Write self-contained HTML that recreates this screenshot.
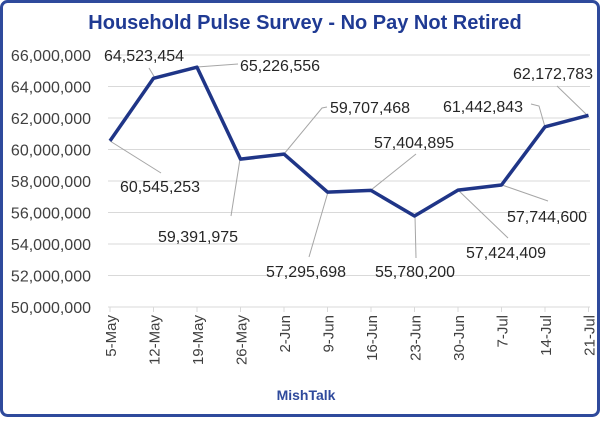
<!DOCTYPE html>
<html><head><style>
html,body{margin:0;padding:0;background:#fff;}
svg text{font-family:"Liberation Sans",sans-serif;}
</style></head><body>
<svg width="604" height="419" viewBox="0 0 604 419" xmlns="http://www.w3.org/2000/svg">
<rect x="1.5" y="1.5" width="597" height="414" rx="6" fill="#fff" stroke="#2F4A9C" stroke-width="3"/>
<text x="305" y="29" text-anchor="middle" font-size="20" font-weight="bold" fill="#1F3A93">Household Pulse Survey - No Pay Not Retired</text>
<g stroke="#d9d9d9" stroke-width="1">
<line x1="108" x2="590" y1="55" y2="55"/><line x1="108" x2="590" y1="86.5" y2="86.5"/>
<line x1="108" x2="590" y1="118" y2="118"/><line x1="108" x2="590" y1="149.5" y2="149.5"/>
<line x1="108" x2="590" y1="181" y2="181"/><line x1="108" x2="590" y1="212.5" y2="212.5"/>
<line x1="108" x2="590" y1="244" y2="244"/><line x1="108" x2="590" y1="275.5" y2="275.5"/>
<line x1="108" x2="590" y1="307" y2="307"/>
<line x1="110" x2="110" y1="307" y2="312"/><line x1="153.5" x2="153.5" y1="307" y2="312"/><line x1="197" x2="197" y1="307" y2="312"/><line x1="240.5" x2="240.5" y1="307" y2="312"/><line x1="284" x2="284" y1="307" y2="312"/><line x1="327.5" x2="327.5" y1="307" y2="312"/><line x1="371" x2="371" y1="307" y2="312"/><line x1="414.5" x2="414.5" y1="307" y2="312"/><line x1="458" x2="458" y1="307" y2="312"/><line x1="501.5" x2="501.5" y1="307" y2="312"/><line x1="545" x2="545" y1="307" y2="312"/><line x1="588.5" x2="588.5" y1="307" y2="312"/>
</g>
<g font-size="16" fill="#404040" text-anchor="end">
<text x="91" y="61">66,000,000</text><text x="91" y="92.5">64,000,000</text><text x="91" y="124">62,000,000</text><text x="91" y="155.5">60,000,000</text><text x="91" y="187">58,000,000</text><text x="91" y="218.5">56,000,000</text><text x="91" y="250">54,000,000</text><text x="91" y="281.5">52,000,000</text><text x="91" y="313">50,000,000</text>
</g>
<g font-size="15" fill="#404040" text-anchor="end">
<text transform="translate(116,315) rotate(-90)">5-May</text>
<text transform="translate(159.5,315) rotate(-90)">12-May</text>
<text transform="translate(203,315) rotate(-90)">19-May</text>
<text transform="translate(246.5,315) rotate(-90)">26-May</text>
<text transform="translate(290,315) rotate(-90)">2-Jun</text>
<text transform="translate(333.5,315) rotate(-90)">9-Jun</text>
<text transform="translate(377,315) rotate(-90)">16-Jun</text>
<text transform="translate(420.5,315) rotate(-90)">23-Jun</text>
<text transform="translate(464,315) rotate(-90)">30-Jun</text>
<text transform="translate(507.5,315) rotate(-90)">7-Jul</text>
<text transform="translate(551,315) rotate(-90)">14-Jul</text>
<text transform="translate(594.5,315) rotate(-90)">21-Jul</text>
</g>
<g stroke="#a6a6a6" stroke-width="1" fill="none">
<polyline points="110,141 161,173"/>
<polyline points="149,68 155,78"/>
<polyline points="197,67 238,64"/>
<polyline points="240,159 231,216"/>
<polyline points="284,154 322,108 327,107"/>
<polyline points="328,192 309,257"/>
<polyline points="371,190 416,154"/>
<polyline points="415,216 416,258"/>
<polyline points="458,190 508,238"/>
<polyline points="502,185 548,201"/>
<polyline points="545,127 539,106 531,104"/>
<polyline points="588,116 557,86"/>
</g>
<polyline fill="none" stroke="#1F3587" stroke-width="3.5" stroke-linejoin="round" points="110,140.9 153.5,78.3 197,67.2 240.5,159.1 284,154.1 327.5,192.1 371,190.4 414.5,216 458,190.1 501.5,185 545,126.8 588.5,115.3"/>
<g font-size="16" fill="#262626">
<text x="120" y="192">60,545,253</text>
<text x="104" y="61">64,523,454</text>
<text x="240" y="71">65,226,556</text>
<text x="158" y="242">59,391,975</text>
<text x="330" y="113">59,707,468</text>
<text x="266" y="277">57,295,698</text>
<text x="374" y="148">57,404,895</text>
<text x="375" y="277">55,780,200</text>
<text x="466" y="258">57,424,409</text>
<text x="507" y="222">57,744,600</text>
<text x="443" y="112">61,442,843</text>
<text x="513" y="79">62,172,783</text>
</g>
<text x="306" y="400" text-anchor="middle" font-size="14" font-weight="bold" fill="#2F4A9C">MishTalk</text>
</svg>
</body></html>
